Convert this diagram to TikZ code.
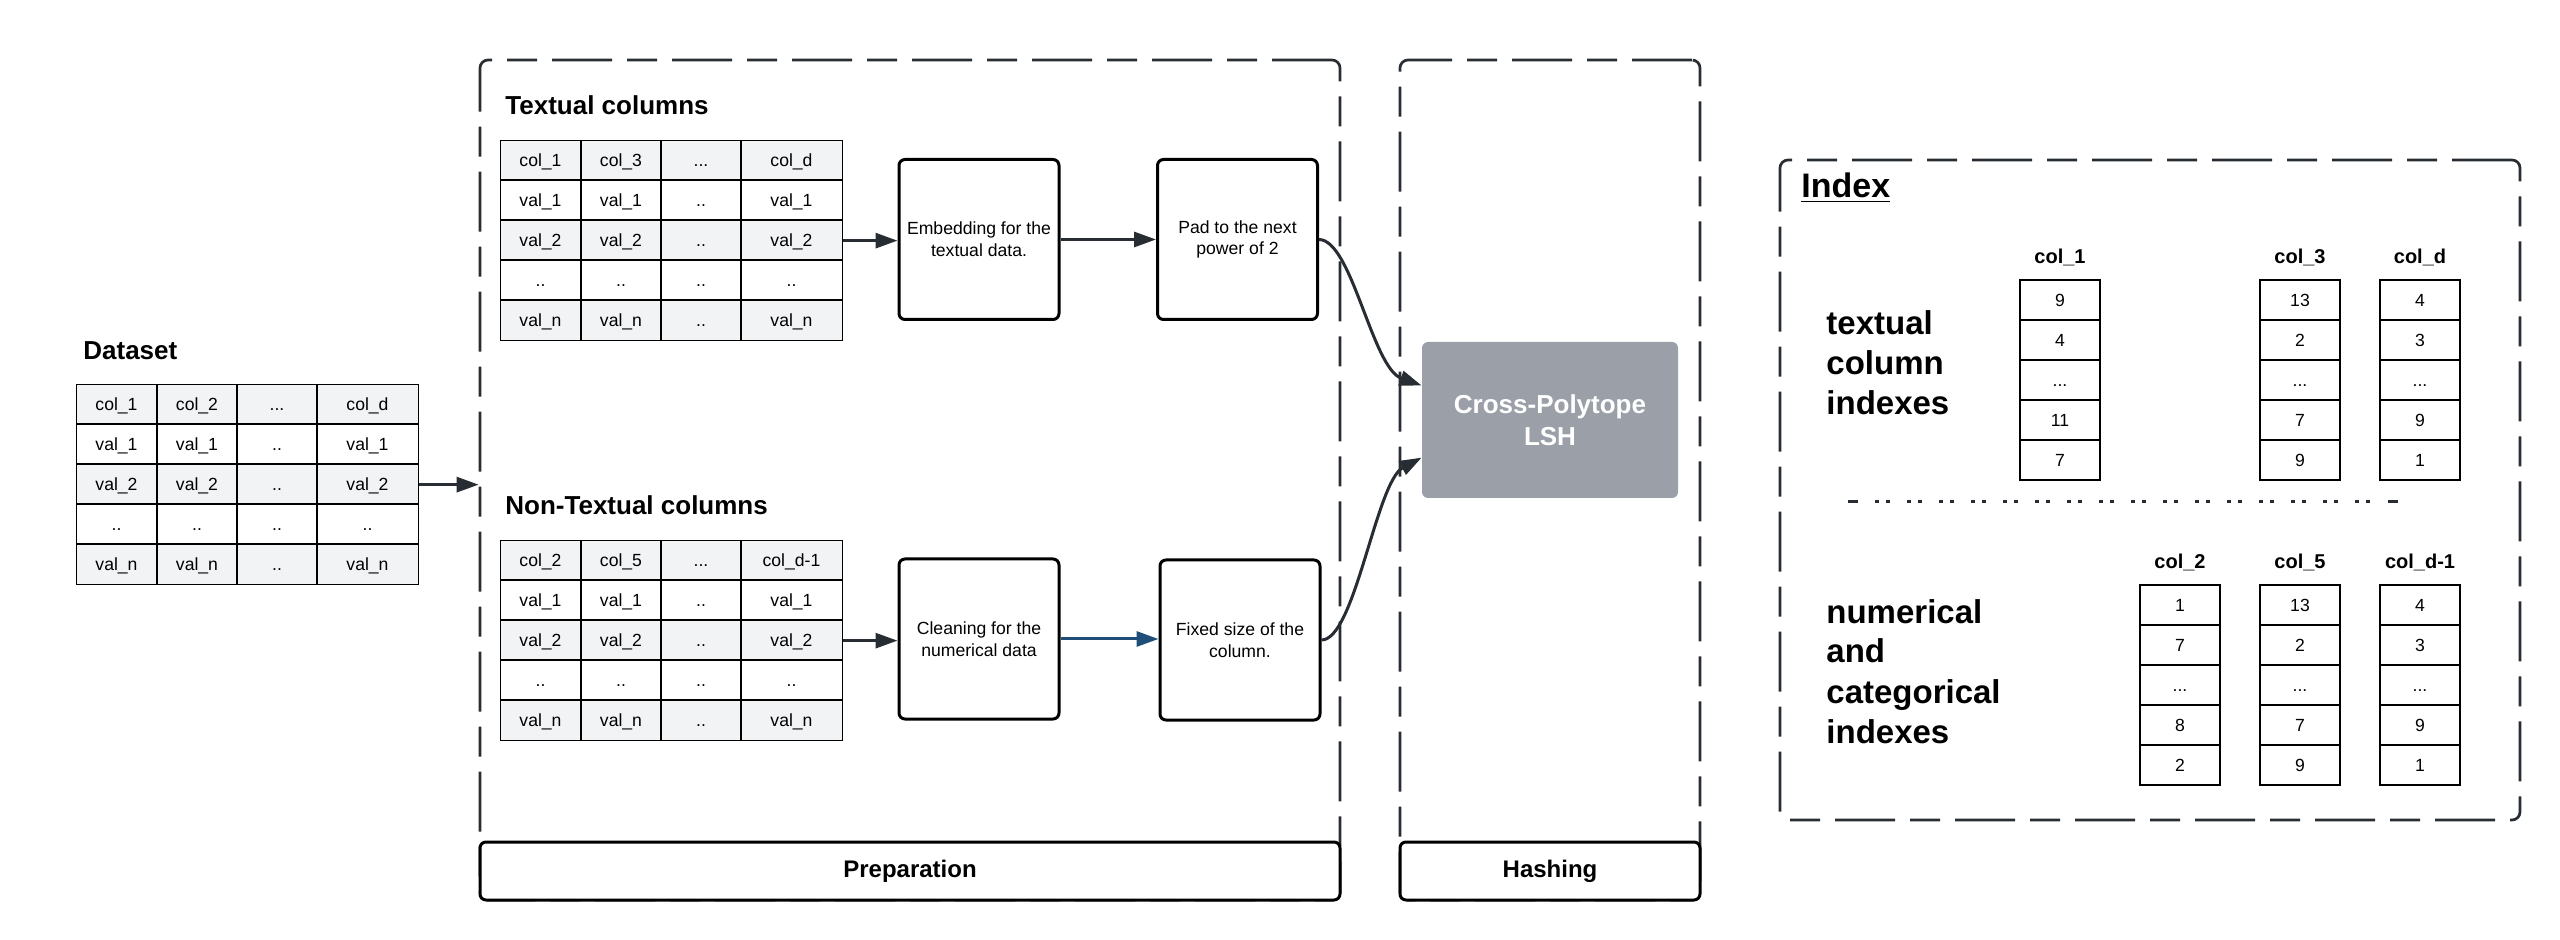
\documentclass[tikz,border=0pt]{standalone}
\usepackage{fontspec}
\setmainfont{Liberation Sans}
\usetikzlibrary{arrows.meta,calc}
\definecolor{ink}{HTML}{282C33}
\definecolor{rowgray}{HTML}{F2F3F5}
\definecolor{lshgray}{HTML}{9A9FA8}
\definecolor{flowblue}{HTML}{1F4E79}

\tikzset{
  tline/.style={draw=black, line width=0.65pt},
  tframe/.style={draw=black, line width=0.65pt, minimum width=171pt, minimum height=100pt, inner sep=0pt},
  cell/.style={inner sep=0pt, text height=6.4pt, text depth=0pt, font=\fontsize{8.8}{10}\selectfont},
  icell/.style={draw=black, line width=1pt},
  ihead/.style={anchor=base, inner sep=0pt, font=\bfseries\fontsize{10}{12}\selectfont},
  title/.style={anchor=base west, inner sep=0pt, font=\bfseries\fontsize{13}{15}\selectfont},
  bigl/.style={anchor=base west, inner sep=0pt, align=left, font=\bfseries\fontsize{16.5}{20}\selectfont},
  procbox/.style={draw=black, line width=1.5pt, rounded corners=3pt, minimum width=80pt, minimum height=80pt, align=center, inner sep=1pt, font=\fontsize{8.8}{10.8}\selectfont},
  group/.style={draw=ink, line width=1.35pt, dash pattern=on 30pt off 7.5pt on 15pt off 7.5pt, rounded corners=4pt, inner sep=0pt},
  lbl/.style={draw=black, fill=white, line width=1.5pt, rounded corners=3pt, minimum height=29pt, inner sep=0pt, font=\bfseries\fontsize{12}{14}\selectfont},
  arr/.style={draw=ink, line width=1.5pt, -{Triangle[length=11pt,width=7.5pt]}},
  sepline/.style={draw=ink, line width=1.5pt}
}

\newcommand{\datatable}[6]{%
  \fill[rowgray] (#2,#3) rectangle ++(342,40);
  \fill[rowgray] (#2,#3+80) rectangle ++(342,40);
  \fill[rowgray] (#2,#3+160) rectangle ++(342,40);
  \foreach \rr in {40,80,120,160} {\draw[tline] (#2,#3+\rr) -- ++(342,0);}
  \foreach \cc in {81,161,241} {\draw[tline] (#2+\cc,#3) -- ++(0,200);}
  \node[tframe, anchor=north west] (#1) at (#2,#3) {};
  \node[cell] at (#2+40.5,#3+20) {#4};
  \node[cell] at (#2+121,#3+20) {#5};
  \node[cell] at (#2+201,#3+20) {...};
  \node[cell] at (#2+291.5,#3+20) {#6};
  \foreach \rr/\vv in {60/1,100/2,180/n} {
    \node[cell] at (#2+40.5,#3+\rr) {val\_\vv};
    \node[cell] at (#2+121,#3+\rr) {val\_\vv};
    \node[cell] at (#2+201,#3+\rr) {..};
    \node[cell] at (#2+291.5,#3+\rr) {val\_\vv};
  }
  \foreach \cx in {40.5,121,201,291.5} {\node[cell] at (#2+\cx,#3+140) {..};}
}

\newcommand{\idxcol}[8]{%
  \foreach \rr in {0,40,80,120,160} {\draw[icell] (#2,#3+\rr) rectangle ++(80,40);}
  \node[inner sep=0pt, minimum width=40pt, minimum height=100pt, anchor=north west] (#1) at (#2,#3) {};
  \node[ihead] at (#2+40,#3-16) {#4};
  \node[cell] at (#2+40,#3+20) {#5};
  \node[cell] at (#2+40,#3+60) {#6};
  \node[cell] at (#2+40,#3+100) {...};
  \node[cell] at (#2+40,#3+140) {#7};
  \node[cell] at (#2+40,#3+180) {#8};
}

\begin{document}
\begin{tikzpicture}[x=0.5pt,y=-0.5pt]
\useasboundingbox (0,0) rectangle (2560,940);

% group containers
\node[group, minimum width=430pt, minimum height=420pt] (prep) at (910,480) {};
\node[group, minimum width=150pt, minimum height=420pt] (hash) at (1550,480) {};
\node[group, minimum width=370pt, minimum height=330pt] (index) at (2150,490) {};
\node[lbl, minimum width=430pt] (preplbl) at (910,871) {Preparation};
\node[lbl, minimum width=150pt] (hashlbl) at (1550,871) {Hashing};

% dataset
\node[title] (dstitle) at (83,360) {Dataset};
\datatable{dtab}{76}{384}{col\_1}{col\_2}{col\_d}

% textual
\node[title] (ttitle) at (505,115) {Textual columns};
\datatable{ttab}{500}{140}{col\_1}{col\_3}{col\_d}
\node[procbox] (emb) at (979,239.5) {Embedding for the\\textual data.};
\node[procbox] (pad) at (1237.5,239.5) {Pad to the next\\power of 2};

% non-textual
\node[title] (ntitle) at (505,515) {Non-Textual columns};
\datatable{ntab}{500}{540}{col\_2}{col\_5}{col\_d-1}
\node[procbox] (clean) at (979,639) {Cleaning for the\\numerical data};
\node[procbox] (fixed) at (1240,640) {Fixed size of the\\column.};

% LSH
\node[fill=lshgray, rounded corners=3pt, minimum width=128pt, minimum height=78pt, align=center, text=white, inner sep=0pt, font=\bfseries\fontsize{13}{16}\selectfont] (lsh) at (1550,420) {Cross-Polytope\\LSH};

% connectors
\draw[arr] (dtab.east) -- (dtab.east -| prep.west);
\draw[arr] (ttab.east) -- (ttab.east -| emb.west);
\draw[arr] (emb.east) -- (pad.west);
\draw[arr] (ntab.east) -- (ntab.east -| clean.west);
\draw[arr, draw=flowblue, color=flowblue] (clean.east) -- (clean.east -| fixed.west);
\draw[arr] (pad.east) .. controls (1352,240) and (1372,368) .. ($(lsh.north west)!0.28!(lsh.south west)$);
\draw[arr] (fixed.east) .. controls (1355,640) and (1376,482) .. ($(lsh.north west)!0.74!(lsh.south west)$);

% index
\node[anchor=base west, inner sep=0pt, font=\bfseries\fontsize{17}{20}\selectfont] (idxtitle) at (1801,198) {\underline{Index}};
\node[bigl] (tlabel) at (1826,415) {textual\\column\\indexes};
\idxcol{ic1}{2020}{280}{col\_1}{9}{4}{11}{7}
\idxcol{ic3}{2260}{280}{col\_3}{13}{2}{7}{9}
\idxcol{icd}{2380}{280}{col\_d}{4}{3}{9}{1}

\coordinate (sepL) at (1848,502);
\coordinate (sepR) at (2398,502);
\draw[sepline] (sepL) -- ($(sepL)+(10,0)$);
\draw[sepline, dash pattern=on 2pt off 3.5pt on 2pt off 8.5pt] ($(sepL)+(27,0)$) -- ($(sepR)+(-16,0)$);
\draw[sepline] ($(sepR)+(-10,0)$) -- (sepR);

\node[bigl] (nlabel) at (1826,743) {numerical\\and\\categorical\\indexes};
\idxcol{ic2}{2140}{585}{col\_2}{1}{7}{8}{2}
\idxcol{ic5}{2260}{585}{col\_5}{13}{2}{7}{9}
\idxcol{icd1}{2380}{585}{col\_d-1}{4}{3}{9}{1}
\end{tikzpicture}
\end{document}
